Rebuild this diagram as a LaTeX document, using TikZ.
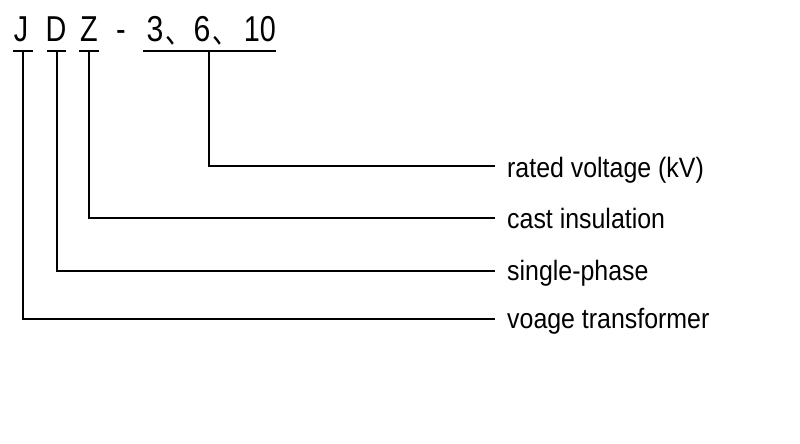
\documentclass[tikz,border=0pt]{standalone}
\usepackage{fontspec}
\setmainfont{Liberation Sans}
\newfontfamily\cjkfont{Noto Sans CJK SC}
\begin{document}
\begin{tikzpicture}[x=1pt,y=-1pt,
  wire/.style={line width=1.6pt,black},
  code/.style={inner sep=0pt,anchor=base,font=\fontsize{36}{36}\selectfont,xscale=0.8},
  lab/.style={inner sep=0pt,anchor=base west,font=\fontsize{28}{28}\selectfont,xscale=0.89}]
\useasboundingbox (0,0) rectangle (800,444);
\fill[white] (0,0) rectangle (800,444);
% code characters
\node[code] (cJ) at (21,42) {J};
\node[code] (cD) at (56,42) {D};
\node[code] (cZ) at (89,42) {Z};
\node[code] (cH) at (121,42) {-};
\node[code,xscale=1.05] (c3) at (155,42) {3};
\node[code,font=\cjkfont\fontsize{32}{32}\selectfont] (k1) at (178,44) {、};
\node[code,xscale=1.05] (c6) at (202,42) {6};
\node[code,font=\cjkfont\fontsize{32}{32}\selectfont] (k2) at (225,44) {、};
\node[code,xscale=1.0] (c10) at (260,42) {10};
% bars
\coordinate (bJl) at (13,51); \coordinate (bJr) at (33,51);
\coordinate (bDl) at (47,51); \coordinate (bDr) at (66,51);
\coordinate (bZl) at (79,51); \coordinate (bZr) at (99,51);
\coordinate (bNl) at (143,51); \coordinate (bNr) at (276,51);
\draw[wire] (bJl) -- (bJr);
\draw[wire] (bDl) -- (bDr);
\draw[wire] (bZl) -- (bZr);
\draw[wire] (bNl) -- (bNr);
% labels
\node[lab] (lN) at (507,177) {rated voltage (kV)};
\node[lab] (lZ) at (507,228) {cast insulation};
\node[lab] (lD) at (507,280) {single-phase};
\node[lab] (lJ) at (507,328) {voage transformer};
% line ends
\coordinate (eN) at (495,166);
\coordinate (eZ) at (495,218);
\coordinate (eD) at (495,271);
\coordinate (eJ) at (495,319);
\coordinate (tN) at (209,51);
\coordinate (tZ) at (89,51);
\coordinate (tD) at (57,51);
\coordinate (tJ) at (23,51);
\draw[wire] (tN) |- (eN);
\draw[wire] (tZ) |- (eZ);
\draw[wire] (tD) |- (eD);
\draw[wire] (tJ) |- (eJ);
\end{tikzpicture}
\end{document}
